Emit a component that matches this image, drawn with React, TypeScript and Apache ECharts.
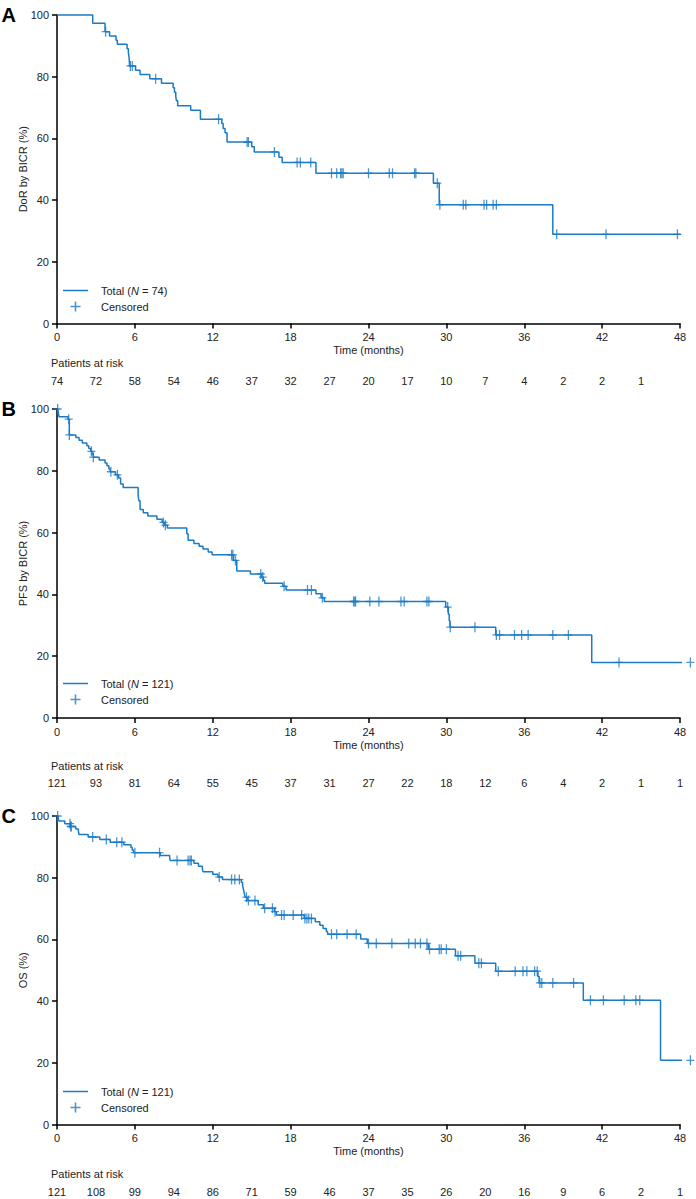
import React, { useEffect, useRef } from "react";
import * as echarts from "echarts";

// ---------- data ----------
const panelLetters = ["A", "B", "C"];
const yTitles = ["DoR by BICR (%)", "PFS by BICR (%)", "OS (%)"];
const totalNames = ["Total (N = 74)", "Total (N = 121)", "Total (N = 121)"];

const dorT = [0, 2.75, 3.7, 4.05, 4.55, 4.65, 5.4, 5.5, 5.55, 5.6, 6.05, 6.4, 7.15, 8.05, 8.95, 9.05, 9.15, 9.2, 9.3, 10.3, 11.05, 12.7, 12.8, 12.95, 13.1, 15.0, 15.2, 17.1, 17.35, 19.95, 29.0, 29.45, 38.2, 48.05];
const dorS = [100, 97.3, 94.6, 93.2, 91.8, 90.5, 89.1, 87.7, 86.3, 83.5, 82.1, 80.7, 79.3, 77.9, 76.4, 75.0, 73.6, 72.2, 70.6, 69.1, 66.2, 64.8, 63.2, 61.8, 58.8, 57.3, 55.6, 53.9, 52.2, 48.7, 45.5, 38.5, 28.9, 28.9];
const dorCensorT = [3.75, 5.65, 5.8, 7.6, 12.45, 14.65, 14.75, 16.75, 18.5, 18.75, 19.55, 21.15, 21.55, 21.85, 21.95, 22.05, 24.0, 25.6, 25.85, 27.55, 27.65, 29.3, 29.5, 31.3, 31.5, 32.9, 33.1, 33.6, 33.85, 38.5, 42.3, 47.8];
const dorCensorS = [94.6, 83.5, 83.5, 79.3, 66.2, 58.8, 58.8, 55.6, 52.2, 52.2, 52.2, 48.7, 48.7, 48.7, 48.7, 48.7, 48.7, 48.7, 48.7, 48.7, 48.7, 45.5, 38.5, 38.5, 38.5, 38.5, 38.5, 38.5, 38.5, 28.9, 28.9, 28.9];
const dorRisk = [74, 72, 58, 54, 46, 37, 32, 27, 20, 17, 10, 7, 4, 2, 2, 1];

const pfsT = [0, 0.08, 0.12, 0.15, 0.85, 0.95, 1.45, 1.7, 1.95, 2.3, 2.45, 2.6, 2.7, 2.8, 3.25, 3.7, 3.85, 4.0, 4.1, 4.5, 4.75, 4.9, 5.1, 6.25, 6.3, 6.4, 6.65, 7.0, 7.7, 8.1, 8.3, 8.5, 10.0, 10.1, 10.55, 10.95, 11.25, 11.65, 11.95, 13.6, 13.85, 14.9, 15.75, 15.9, 16.0, 17.4, 17.65, 19.95, 20.35, 20.6, 29.95, 30.15, 30.22, 30.28, 33.8, 41.2, 49.2];
const pfsS = [100, 99.2, 98.3, 97.5, 96.7, 91.6, 90.8, 89.9, 89.0, 88.1, 87.2, 86.3, 85.4, 84.4, 83.5, 82.5, 81.6, 80.6, 79.7, 78.7, 77.7, 75.7, 74.6, 72.5, 70.3, 67.5, 66.4, 65.4, 64.3, 63.3, 62.4, 61.5, 59.6, 57.5, 56.5, 55.6, 54.7, 53.7, 52.8, 51.0, 47.6, 46.6, 45.6, 44.6, 43.6, 42.6, 41.4, 40.2, 38.9, 37.7, 35.9, 33.6, 31.5, 29.4, 26.9, 18.0, 18.0];
const pfsCensorT = [0.05, 0.9, 0.95, 2.65, 2.8, 4.15, 4.65, 8.2, 8.35, 13.45, 13.55, 13.75, 15.7, 15.85, 17.5, 19.3, 19.6, 20.45, 22.85, 22.95, 23.0, 24.1, 24.8, 26.5, 26.75, 28.5, 28.65, 30.1, 30.3, 32.2, 33.85, 34.1, 35.25, 35.8, 36.3, 38.2, 39.4, 43.3, 48.8];
const pfsCensorS = [100, 96.7, 91.6, 86.3, 84.4, 79.7, 78.7, 63.3, 62.4, 52.8, 52.8, 51.0, 46.6, 45.6, 42.6, 41.4, 41.4, 38.9, 37.7, 37.7, 37.7, 37.7, 37.7, 37.7, 37.7, 37.7, 37.7, 35.9, 29.4, 29.4, 26.9, 26.9, 26.9, 26.9, 26.9, 26.9, 26.9, 18.0, 18.0];
const pfsRisk = [121, 93, 81, 64, 55, 45, 37, 31, 27, 22, 18, 12, 6, 4, 2, 1, 1];

const osT = [0, 0.1, 0.15, 0.6, 1.02, 1.45, 1.65, 1.7, 2.4, 3.3, 4.1, 5.15, 5.7, 5.8, 5.9, 7.95, 8.68, 8.72, 10.55, 10.9, 11.2, 11.25, 12.0, 12.4, 12.75, 14.2, 14.3, 14.35, 14.4, 14.45, 14.5, 14.65, 15.5, 15.9, 16.75, 16.9, 19.05, 19.9, 20.25, 20.5, 20.75, 20.85, 23.4, 23.9, 28.6, 30.7, 32.2, 33.8, 37.05, 37.15, 40.55, 46.5, 49.0];
const osS = [100, 99.2, 98.4, 97.5, 96.6, 95.8, 94.9, 94.0, 93.2, 92.4, 91.5, 90.7, 89.8, 89.0, 88.1, 87.2, 86.4, 85.6, 84.7, 83.7, 82.8, 81.9, 81.1, 80.2, 79.4, 78.5, 77.5, 76.5, 75.5, 74.6, 73.7, 72.6, 71.2, 70.1, 69.0, 67.9, 66.8, 65.7, 64.6, 63.5, 62.6, 61.7, 60.1, 58.7, 56.8, 54.7, 52.3, 49.7, 48.0, 45.9, 40.3, 20.8, 20.8];
const osCensorT = [0.05, 1.0, 1.05, 1.1, 2.75, 3.8, 4.6, 5.0, 6.0, 7.9, 9.25, 10.1, 10.25, 10.35, 12.5, 13.45, 13.7, 14.05, 14.6, 14.75, 15.25, 16.0, 16.6, 16.8, 17.3, 17.5, 18.2, 18.85, 19.1, 19.25, 19.4, 19.6, 21.15, 21.55, 22.35, 23.05, 24.0, 24.6, 25.8, 27.1, 27.6, 28.0, 28.5, 28.7, 29.45, 29.6, 30.0, 30.9, 31.1, 32.5, 32.7, 34.0, 35.3, 35.9, 36.2, 36.8, 37.0, 37.2, 37.35, 38.2, 39.8, 41.1, 42.1, 43.7, 44.6, 44.9, 48.8];
const osCensorS = [100, 97.5, 96.6, 96.6, 93.2, 92.4, 91.5, 91.5, 88.1, 88.1, 85.6, 85.6, 85.6, 85.6, 80.2, 79.4, 79.4, 79.4, 73.7, 72.6, 72.6, 70.1, 70.1, 69.0, 67.9, 67.9, 67.9, 67.9, 66.8, 66.8, 66.8, 66.8, 61.7, 61.7, 61.7, 61.7, 58.7, 58.7, 58.7, 58.7, 58.7, 58.7, 58.7, 56.8, 56.8, 56.8, 56.8, 54.7, 54.7, 52.3, 52.3, 49.7, 49.7, 49.7, 49.7, 49.7, 49.7, 45.9, 45.9, 45.9, 45.9, 40.3, 40.3, 40.3, 40.3, 40.3, 20.8];
const osRisk = [121, 108, 99, 94, 86, 71, 59, 46, 37, 35, 26, 20, 16, 9, 6, 2, 1];

const xTicks = [0, 48, 6];
const yTicks = [0, 100, 20];

// ---------- styling / layout ----------
const BLUE = "#1b7bc6";
const FONT = "Liberation Sans, Arial, sans-serif";
const CROSS = "path://M4.2,0H5.8V4.35H10V5.65H5.8V10H4.2V5.65H0V4.35H4.2Z";
const LINE_ICON = "path://M0,0H0.01V0.01H0Z M0,4.3H25V5.7H0Z M24.99,9.99H25V10H24.99Z";
const W = 696;
const H = 1199;
const plotTops = [15, 409, 816];
const plotHeights = [308.5, 309, 308.5];
const letterY = [15, 409, 815.5];
const patientsY = [363, 766, 1174];
const riskAxisY = [373, 775, 1184];
const legendTops = [280, 673, 1081];

const pair = (a: number[], b: number[]) => a.map((v, i) => [v, b[i]]);

const panels = [
  { t: dorT, s: dorS, ct: dorCensorT, cs: dorCensorS, risk: dorRisk },
  { t: pfsT, s: pfsS, ct: pfsCensorT, cs: pfsCensorS, risk: pfsRisk },
  { t: osT, s: osS, ct: osCensorT, cs: osCensorS, risk: osRisk },
];

function buildOption() {
  const plotGrids: any[] = [];
  const riskGrids: any[] = [];
  const plotX: any[] = [];
  const riskX: any[] = [];
  const plotY: any[] = [];
  const riskY: any[] = [];
  const series: any[] = [];
  const legend: any[] = [];
  const graphic: any[] = [];
  const axisLine = { show: true, lineStyle: { color: "#000", width: 1.5 } };
  const axisTick = { show: true, inside: false, length: 5, lineStyle: { color: "#000", width: 1.5 } };
  const label = { fontSize: 11, color: "#222", fontFamily: FONT };

  panels.forEach((p, i) => {
    plotGrids.push({ left: 57, width: 623, top: plotTops[i], height: plotHeights[i] });
    plotX.push({
      type: "value", gridIndex: i, min: xTicks[0], max: xTicks[1], interval: xTicks[2],
      axisLine, axisTick, splitLine: { show: false },
      axisLabel: { ...label, margin: 8 },
      name: "Time (months)", nameLocation: "middle", nameGap: 21,
      nameTextStyle: { ...label },
    });
    plotY.push({
      type: "value", gridIndex: i, min: yTicks[0], max: yTicks[1], interval: yTicks[2],
      axisLine, axisTick, splitLine: { show: false },
      axisLabel: { ...label, margin: 8 },
      name: yTitles[i], nameLocation: "middle", nameRotate: 90, nameGap: 29,
      nameMoveOverlap: false,
      nameTextStyle: { ...label },
    });
    series.push({
      type: "line", name: totalNames[i], xAxisIndex: i, yAxisIndex: i,
      data: pair(p.t, p.s), step: "end", symbol: "none", clip: false,
      lineStyle: { color: BLUE, width: 1.5 }, itemStyle: { color: BLUE },
    });
    series.push({
      type: "scatter", name: "Censored", xAxisIndex: i, yAxisIndex: i,
      data: pair(p.ct, p.cs), symbol: CROSS, symbolSize: [8, 10], clip: false,
      itemStyle: { color: BLUE },
    });
    legend.push({
      orient: "vertical", left: 58, top: legendTops[i], itemWidth: 25, itemHeight: 10, itemGap: 5,
      selectedMode: false,
      data: [{ name: totalNames[i], icon: LINE_ICON }, { name: "Censored", icon: CROSS }],
      formatter: (n: string) => n.replace("N", "{i|N}"),
      textStyle: {
        fontSize: 11, color: "#222", fontFamily: FONT, padding: [0, 0, 0, 8],
        rich: { i: { fontStyle: "italic", fontSize: 11, color: "#222", fontFamily: FONT } },
      },
    });
    // at-risk row, on a value axis aligned with the time axis
    riskGrids.push({ left: 57, width: 623, top: riskAxisY[i] - 1, height: 1 });
    const risk = p.risk;
    riskX.push({
      type: "value", gridIndex: 3 + i, min: 0, max: 48, interval: 3,
      axisLine: { show: false }, axisTick: { show: false }, splitLine: { show: false },
      axisLabel: {
        ...label, margin: 2,
        formatter: (v: number) => { const k = Math.round(v / 3); return k < risk.length ? String(risk[k]) : ""; },
      },
    });
    riskY.push({ type: "value", gridIndex: 3 + i, show: false });
    graphic.push({
      type: "text", x: 1.5, y: letterY[i],
      style: { text: panelLetters[i], font: `bold 20px ${FONT}`, fill: "#000", verticalAlign: "middle" },
    });
    graphic.push({
      type: "text", x: 51, y: patientsY[i],
      style: { text: "Patients at risk", font: `11px ${FONT}`, fill: "#222", verticalAlign: "middle" },
    });
  });

  return {
    animation: false,
    backgroundColor: "#fff",
    textStyle: { fontFamily: FONT },
    grid: [...plotGrids, ...riskGrids],
    xAxis: [...plotX, ...riskX],
    yAxis: [...plotY, ...riskY],
    legend,
    series,
    graphic,
  };
}

export default function App() {
  const ref = useRef<HTMLDivElement>(null);
  useEffect(() => {
    if (!ref.current) return;
    const chart = echarts.init(ref.current, undefined, { renderer: "svg" });
    chart.setOption(buildOption() as any);
    return () => chart.dispose();
  }, []);
  return <div ref={ref} style={{ position: "absolute", left: 0, top: 0, width: W, height: H }} />;
}
